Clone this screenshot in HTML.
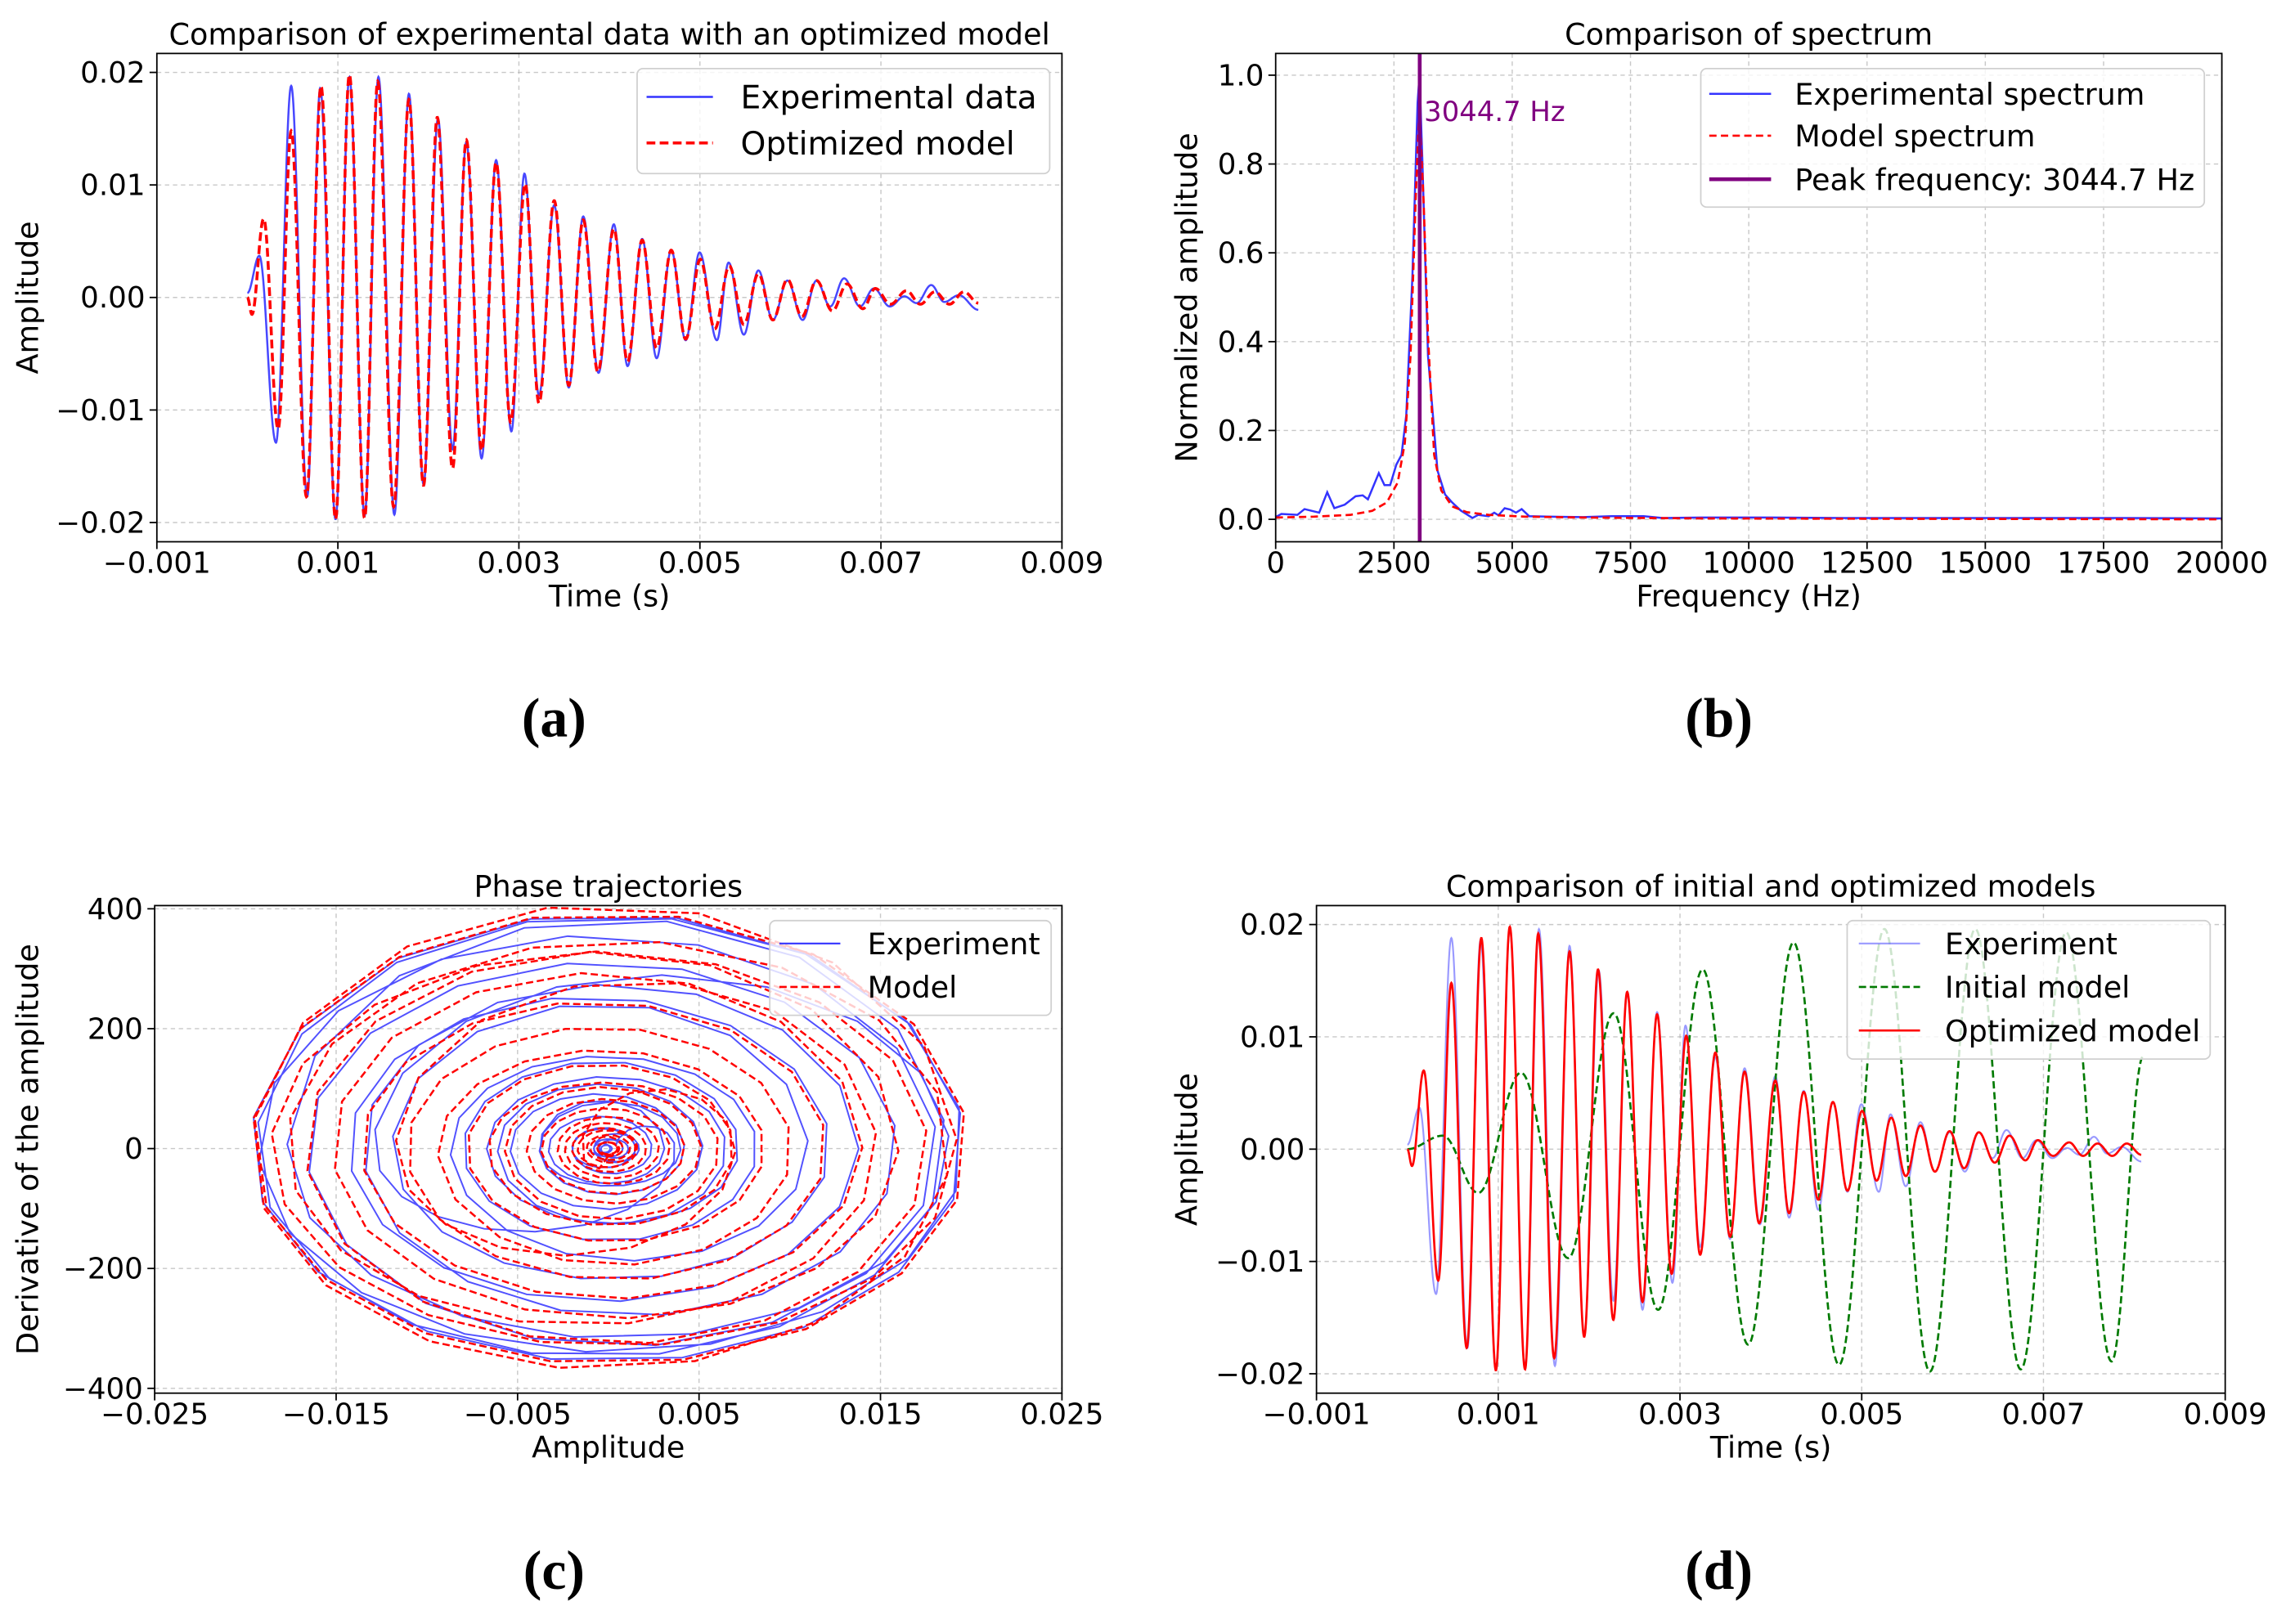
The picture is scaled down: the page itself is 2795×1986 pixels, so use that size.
<!DOCTYPE html>
<html><head><meta charset="utf-8"><title>Charts</title>
<style>
html,body{margin:0;padding:0;background:#fff;}
svg{display:block;}
text{font-family:"DejaVu Sans","Liberation Sans",sans-serif;}
</style></head>
<body>
<svg id="fig" xmlns="http://www.w3.org/2000/svg" width="2795" height="1986" viewBox="0 0 1568 1114"></svg>
<script>
// ---------- DATA ----------
// Panel (a)/(d): experimental signal extrema (time in ms, amplitude x1e-3)
const expTimeMs=[0,0.132,0.316,0.484,0.661,0.805,0.974,1.127,1.295,1.448,1.624,1.785,1.946,2.106,2.267,2.419,2.588,2.748,2.917,3.061,3.222,3.390,3.551,3.711,3.880,4.049,4.201,4.362,4.522,4.683,4.843,4.996,5.188,5.317,5.485,5.646,5.806,5.967,6.135,6.288,6.440,6.593,6.769,6.922,7.098,7.259,7.395,7.556,7.700,7.861,8.078];
const expAmpMilli=[0.4,3.7,-12.9,18.8,-17.7,18.6,-19.7,19.6,-19.4,19.6,-19.3,18.1,-16.6,15.9,-13.5,13.8,-14.3,12.2,-11.9,11.0,-8.7,8.2,-8.0,7.2,-6.7,6.5,-6.1,5.2,-5.4,4.2,-3.8,4.0,-3.8,3.1,-3.3,2.4,-2.0,1.5,-2.0,1.5,-0.8,1.7,-0.8,0.8,-0.8,0.1,-0.5,1.1,-0.4,0.2,-1.1];
// Optimized model extrema
const modTimeMs=[0,0.051,0.180,0.340,0.484,0.653,0.814,0.974,1.127,1.295,1.440,1.616,1.785,1.946,2.098,2.267,2.419,2.588,2.748,2.909,3.069,3.222,3.390,3.551,3.711,3.872,4.049,4.201,4.362,4.522,4.683,4.843,5.004,5.164,5.325,5.485,5.646,5.806,5.967,6.127,6.288,6.464,6.625,6.801,6.938,7.106,7.283,7.435,7.596,7.757,7.917,8.078];
const modAmpMilli=[0,-1.5,7.0,-11.7,14.8,-17.7,18.8,-19.7,19.8,-19.6,19.2,-18.6,17.6,-16.7,16.0,-15.2,14.0,-13.6,12.0,-11.1,10.1,-9.4,8.6,-7.8,6.9,-6.6,6.1,-5.7,5.1,-4.5,4.2,-3.7,3.4,-2.8,2.8,-2.4,2.1,-2.0,1.6,-1.7,1.5,-1.2,1.2,-1.0,0.8,-0.6,0.6,-0.6,0.5,-0.6,0.5,-0.5];
// Initial model extrema (panel d)
const initTimeMs=[0,0.39,0.78,1.25,1.77,2.27,2.76,3.25,3.75,4.25,4.75,5.25,5.75,6.25,6.75,7.25,7.75,8.1];
const initAmpMilli=[0,1.2,-3.9,6.8,-9.7,12.1,-14.3,16.0,-17.4,18.4,-19.2,19.6,-19.8,19.6,-19.6,19.3,-18.9,8.3];
// Panel (b): spectra
const specFreqExp=[0,120,460,610,920,1090,1240,1460,1690,1840,1950,2180,2300,2420,2550,2660,2760,2890,3000,3040,3100,3220,3420,3580,3730,3910,4160,4280,4500,4620,4710,4840,4960,5080,5200,5360,5730,6500,7100,7780,8180,9000,10500,12000,14000,16000,18000,20000];
const specAmpExp=[0.005,0.012,0.010,0.023,0.015,0.061,0.025,0.033,0.052,0.054,0.045,0.104,0.077,0.077,0.123,0.145,0.234,0.546,0.938,1.0,0.81,0.368,0.11,0.056,0.038,0.020,0.003,0.010,0.007,0.015,0.009,0.025,0.022,0.015,0.023,0.007,0.006,0.005,0.007,0.007,0.003,0.004,0.004,0.003,0.003,0.003,0.003,0.002];
const specFreqMod=[0,810,1580,2040,2350,2580,2730,2850,2960,3020,3040,3130,3220,3350,3500,3730,4040,4500,5270,6500,9000,14000,20000];
const specAmpMod=[0.004,0.006,0.010,0.019,0.038,0.083,0.172,0.368,0.724,0.884,0.92,0.706,0.412,0.145,0.065,0.029,0.016,0.010,0.006,0.004,0.002,0.001,0.0];
const peakFreq=3044.7;
// Tick labels
const aXTicks=[-0.001,0.001,0.003,0.005,0.007,0.009];
const aYTicks=[-0.02,-0.01,0.00,0.01,0.02];
const bXTicks=[0,2500,5000,7500,10000,12500,15000,17500,20000];
const bYTicks=[0.0,0.2,0.4,0.6,0.8,1.0];
const cXTicks=[-0.025,-0.015,-0.005,0.005,0.015,0.025];
const cYTicks=[-400,-200,0,200,400];

// ---------- HELPERS ----------
const NS="http://www.w3.org/2000/svg";
const svg=document.getElementById('fig');
const TICKFS=20, TITLEFS=20.5;
function mk(tag,attrs,parent){const e=document.createElementNS(NS,tag);for(const k in attrs)e.setAttribute(k,attrs[k]);(parent||svg).appendChild(e);return e;}
function lin(d0,d1,r0,r1){return v=>r0+(v-d0)*(r1-r0)/(d1-d0);}
function cosAt(ts,vs,t){let i=0;while(i<ts.length-2&&t>ts[i+1])i++;const dt=ts[i+1]-ts[i];let s=(t-ts[i])/dt;s=Math.max(0,Math.min(1,s));const dv=vs[i+1]-vs[i];return vs[i]+dv*(1-Math.cos(Math.PI*s))/2;}
function curvePath(ts,vs,X,Y,step){let p="";const tEnd=ts[ts.length-1];for(let t=ts[0];t<=tEnd+1e-9;t+=step){const v=cosAt(ts,vs,t);p+=(p?"L":"M")+X(t*1e-3).toFixed(2)+","+Y(v*1e-3).toFixed(2);}return p;}
function polyPath(xs,ys,X,Y){return xs.map((x,i)=>(i?"L":"M")+X(x).toFixed(2)+","+Y(ys[i]).toFixed(2)).join("");}

function axes(id,L,R,T,B,X,Y,xt,yt,xfmt,yfmt,title,xlabel,ylabel,ylabX,tickY,xlabY){
  const g=mk('g',{});
  
  
  const cp=mk('clipPath',{id:'clip-'+id},g);
  mk('rect',{x:L,y:T,width:R-L,height:B-T},cp);
  xt.forEach(v=>{const x=X(v);
    const gl=mk('line',{x1:x,x2:x,y1:T,y2:B,stroke:'#b0b0b0','stroke-width':0.8,'stroke-dasharray':'3,2.5','stroke-opacity':0.7},g);
    
    
    const tk=mk('line',{x1:x,x2:x,y1:B,y2:B+5,stroke:'#000','stroke-width':1},g);
    
    
    const tl=mk('text',{x:x,y:tickY,'font-size':TICKFS,'text-anchor':'middle'},g);
    
    
    tl.textContent=xfmt(v);});
  yt.forEach(v=>{const y=Y(v);
    const gl=mk('line',{x1:L,x2:R,y1:y,y2:y,stroke:'#b0b0b0','stroke-width':0.8,'stroke-dasharray':'3,2.5','stroke-opacity':0.7},g);
    
    
    const tk=mk('line',{x1:L-5,x2:L,y1:y,y2:y,stroke:'#000','stroke-width':1},g);
    
    
    const tl=mk('text',{x:L-8,y:y+7,'font-size':TICKFS,'text-anchor':'end'},g);
    
    
    tl.textContent=yfmt(v);});
  const tt=mk('text',{x:(L+R)/2,y:T-6,'font-size':TITLEFS,'text-anchor':'middle'},g);
  
  
  tt.textContent=title;
  const xl=mk('text',{x:(L+R)/2,y:xlabY,'font-size':TITLEFS,'text-anchor':'middle'},g);
  
  
  xl.textContent=xlabel;
  const cy=(T+B)/2;
  const yl=mk('text',{x:ylabX,y:cy,'font-size':TITLEFS,'text-anchor':'middle',transform:'rotate(-90 '+ylabX+' '+cy+')'},g);
  
  
  yl.textContent=ylabel;
  return g;
}
function frame(id,L,R,T,B){const r=mk('rect',{x:L,y:T,width:R-L,height:B-T,fill:'none',stroke:'#000','stroke-width':1});
  
  }
function legend(id,bx,by,bw,bh,lx1,lx2,tx,fs,entries){
  const g=mk('g',{});
  
  
  const r=mk('rect',{x:bx,y:by,width:bw,height:bh,rx:4,fill:'#fff','fill-opacity':0.8,stroke:'#d0d0d0','stroke-width':1},g);
  
  
  entries.forEach(e=>{
    const ln=mk('line',{x1:lx1,x2:lx2,y1:e.y,y2:e.y,stroke:e.c,'stroke-width':e.w,'stroke-dasharray':e.dash||'none','stroke-opacity':e.op||1},g);
    
    
    const t=mk('text',{x:tx,y:e.y+fs*0.36,'font-size':fs},g);
    
    
    t.textContent=e.t;});
}
function fmtFix(n){return v=>{const s=Math.abs(v).toFixed(n);return (v<-1e-12?'\u2212':'')+s;};}
function panelLabel(txt,x,y,name){const t=mk('text',{x:x,y:y,'font-size':38,'font-weight':'bold','text-anchor':'middle','style':'font-family:"Liberation Serif",serif'});
  
  
  t.textContent=txt;}

const BLUE='#3333ff';
// ---------- PANEL A ----------
(function(){
  const L=107.6,R=728.4,T=36.6,B=371.6;
  const X=lin(-0.001,0.009,L,R), Y=lin(0,0.02,204.0,49.6);
  axes('panel-a',L,R,T,B,X,Y,aXTicks,aYTicks,fmtFix(3),fmtFix(2),'Comparison of experimental data with an optimized model','Time (s)','Amplitude',26,393,416);
  const g=mk('g',{'clip-path':'url(#clip-panel-a)'});
  
  
  const pe=mk('path',{d:curvePath(expTimeMs,expAmpMilli,X,Y,0.004),fill:'none',stroke:BLUE,'stroke-width':1.4,'stroke-opacity':0.9},g);
  
  
  const pm=mk('path',{d:curvePath(modTimeMs,modAmpMilli,X,Y,0.004),fill:'none',stroke:'#ff0000','stroke-width':2,'stroke-dasharray':'6,3'},g);
  
  
  frame('panel-a',L,R,T,B);
  legend('panel-a',437,47,283,72,443.5,489,508,22,[{y:66.4,c:BLUE,w:1.4,t:'Experimental data'},{y:98,c:'#ff0000',w:2,dash:'6,3',t:'Optimized model'}]);
  panelLabel('(a)',380,505,'panel-a-label');
})();
// ---------- PANEL B ----------
(function(){
  const L=875,R=1524,T=36.6,B=371.6;
  const X=lin(0,20000,L,R), Y=lin(0,1,356.2,51.5);
  axes('panel-b',L,R,T,B,X,Y,bXTicks,bYTicks,v=>String(v),fmtFix(1),'Comparison of spectrum','Frequency (Hz)','Normalized amplitude',821,393,416);
  const g=mk('g',{'clip-path':'url(#clip-panel-b)'});
  
  
  const pe=mk('path',{d:polyPath(specFreqExp,specAmpExp,X,Y),fill:'none',stroke:BLUE,'stroke-width':1.4},g);
  
  
  const pm=mk('path',{d:polyPath(specFreqMod,specAmpMod,X,Y),fill:'none',stroke:'#ff0000','stroke-width':1.5,'stroke-dasharray':'5,3'},g);
  
  
  const pk=mk('line',{x1:X(peakFreq),x2:X(peakFreq),y1:T,y2:B,stroke:'#800080','stroke-width':2.6},g);
  
  
  const pt=mk('text',{x:X(peakFreq)+3,y:Y(0.92)+7,'font-size':19,fill:'#800080'});
  
  
  pt.textContent=peakFreq.toFixed(1)+' Hz';
  frame('panel-b',L,R,T,B);
  legend('panel-b',1166.6,47,345.4,95,1172.4,1214.8,1231,20.5,[{y:64.3,c:BLUE,w:1.4,t:'Experimental spectrum'},{y:93,c:'#ff0000',w:1.5,dash:'5,3',t:'Model spectrum'},{y:122.9,c:'#800080',w:2.6,t:'Peak frequency: '+peakFreq.toFixed(1)+' Hz'}]);
  panelLabel('(b)',1179,505,'panel-b-label');
})();
// ---------- PANEL C ----------
(function(){
  const L=106.1,R=728.4,T=621.2,B=955.7;
  const X=lin(-0.025,0.025,L,R), Y=lin(-400,400,952.4,623.4);
  axes('panel-c',L,R,T,B,X,Y,cXTicks,cYTicks,fmtFix(3),v=>(v<0?'\u2212':'')+Math.abs(v),'Phase trajectories','Amplitude','Derivative of the amplitude',26,977,1000);
  const g=mk('g',{'clip-path':'url(#clip-panel-c)'});
  
  
  // sampled at 50 kHz, derivative by central difference (units per second)
  function phase(ts,vs){let p="";const dt=0.02,tEnd=ts[ts.length-1];for(let t=ts[0];t<=tEnd;t+=dt){const v=cosAt(ts,vs,t);const d=(cosAt(ts,vs,Math.min(tEnd,t+dt))-cosAt(ts,vs,Math.max(0,t-dt)))/(2*dt);p+=(p?"L":"M")+X(v*1e-3).toFixed(2)+","+Y(d).toFixed(2);}return p;}
  const pe=mk('path',{d:phase(expTimeMs,expAmpMilli),fill:'none',stroke:BLUE,'stroke-width':1.1,'stroke-opacity':0.85},g);
  
  
  const pm=mk('path',{d:phase(modTimeMs,modAmpMilli),fill:'none',stroke:'#ff0000','stroke-width':1.4,'stroke-dasharray':'5,2.5'},g);
  
  
  frame('panel-c',L,R,T,B);
  legend('panel-c',528,631.5,193,65,534.6,576.4,595,20.5,[{y:647.2,c:BLUE,w:1.2,t:'Experiment'},{y:677,c:'#ff0000',w:1.5,dash:'5,2.5',t:'Model'}]);
  panelLabel('(c)',380,1090,'panel-c-label');
})();
// ---------- PANEL D ----------
(function(){
  const L=903,R=1526.3,T=621.2,B=955.7;
  const X=lin(-0.001,0.009,L,R), Y=lin(0,0.02,788.3,634.2);
  axes('panel-d',L,R,T,B,X,Y,aXTicks,aYTicks,fmtFix(3),fmtFix(2),'Comparison of initial and optimized models','Time (s)','Amplitude',821,977,1000);
  const g=mk('g',{'clip-path':'url(#clip-panel-d)'});
  
  
  const pe=mk('path',{d:curvePath(expTimeMs,expAmpMilli,X,Y,0.004),fill:'none',stroke:'#5555ff','stroke-width':1.2,'stroke-opacity':0.6},g);
  
  
  const pi=mk('path',{d:curvePath(initTimeMs,initAmpMilli,X,Y,0.004),fill:'none',stroke:'#007a00','stroke-width':1.5,'stroke-dasharray':'5,2.5'},g);
  
  
  const pm=mk('path',{d:curvePath(modTimeMs,modAmpMilli,X,Y,0.004),fill:'none',stroke:'#ff0000','stroke-width':1.5},g);
  
  
  frame('panel-d',L,R,T,B);
  legend('panel-d',1267,631.5,249,95,1275,1317,1334,20.5,[{y:647.2,c:'#5555ff',w:1.2,op:0.6,t:'Experiment'},{y:677,c:'#007a00',w:1.5,dash:'5,2.5',t:'Initial model'},{y:706.9,c:'#ff0000',w:1.5,t:'Optimized model'}]);
  panelLabel('(d)',1179,1090,'panel-d-label');
})();
</script>
</body></html>
